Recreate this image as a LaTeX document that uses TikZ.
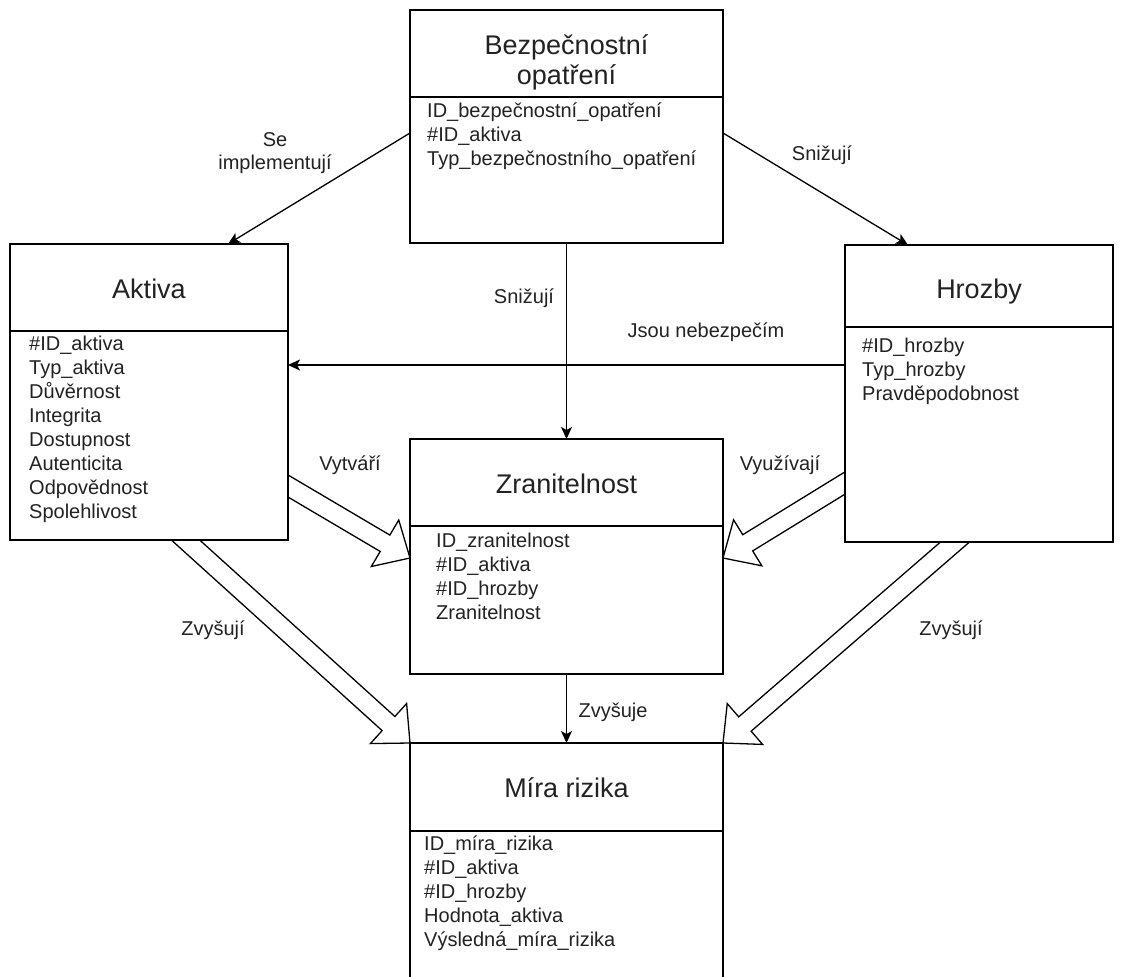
\documentclass[tikz,border=0pt]{standalone}
\usepackage{fontspec}
\setmainfont{Liberation Sans}
\usetikzlibrary{calc,arrows.meta}
\pgfdeclarelayer{background}
\pgfsetlayers{background,main}

\definecolor{ink}{RGB}{0,0,0}
\definecolor{txt}{RGB}{34,34,34}

% left-aligned column whose baseline is that of its first row
\newcommand\attrlist[1]{\begin{tabular}[t]{@{}l@{}}#1\end{tabular}}
\newcommand\titlelist[1]{\begin{tabular}[t]{@{}c@{}}#1\end{tabular}}

% hollow block arrow from #1 to the tip #2
\newcommand\hollowarrow[2]{%
  \coordinate (ha-h) at ($(#2)!29pt!(#1)$);
  \coordinate (ha-s) at ($(#1)!-20pt!(#2)$);
  \draw[fat] ($(ha-s)!9.5pt!90:(#2)$) -- ($(ha-h)!9.5pt!90:(#2)$)
    -- ($(ha-h)!27pt!90:(#2)$) -- (#2) -- ($(ha-h)!27pt!-90:(#2)$)
    -- ($(ha-h)!9.5pt!-90:(#2)$) -- ($(ha-s)!9.5pt!-90:(#2)$);
}

\begin{document}
\begin{tikzpicture}[x=1pt, y=-1pt,
  entity/.style={draw=ink, fill=white, line width=1.4pt, inner sep=0pt,
    outer sep=0pt, anchor=north west},
  divider/.style={draw=ink, line width=1.4pt},
  title/.style={font=\fontsize{27}{27}\selectfont, text=txt, inner sep=0pt, anchor=base},
  attr/.style={font=\fontsize{20}{24}\selectfont, text=txt, inner sep=0pt, anchor=base west},
  lbl/.style={font=\fontsize{20}{23}\selectfont, text=txt, inner sep=0pt, align=center},
  link/.style={draw=ink, line width=1.3pt, -{Stealth[length=12pt,width=11pt,inset=3pt]}},
  fat/.style={draw=ink, fill=white, line width=1.3pt, line join=miter}]

\useasboundingbox (0,0) rectangle (1123,976);

% entity boxes
\node[entity, minimum width=313pt, minimum height=233pt] (bez) at (410,10) {};
\node[entity, minimum width=278pt, minimum height=296pt] (akt) at (10,244) {};
\node[entity, minimum width=268pt, minimum height=297pt] (hro) at (845,245) {};
\node[entity, minimum width=313pt, minimum height=235pt] (zra) at (410,439) {};
\node[entity, minimum width=313pt, minimum height=245pt] (mir) at (410,743) {};

% header separators
\draw[divider] ($(bez.north west)+(0,87)$) -- ($(bez.north east)+(0,87)$);
\draw[divider] ($(akt.north west)+(0,87)$) -- ($(akt.north east)+(0,87)$);
\draw[divider] ($(hro.north west)+(0,82)$) -- ($(hro.north east)+(0,82)$);
\draw[divider] ($(zra.north west)+(0,87)$) -- ($(zra.north east)+(0,87)$);
\draw[divider] ($(mir.north west)+(0,88)$) -- ($(mir.north east)+(0,88)$);

% titles
\node[title] (bez-t) at (566.5,55) {\titlelist{Bezpečnostní\\[2pt]opatření}};
\node[title] (akt-t) at (149,298) {Aktiva};
\node[title] (hro-t) at (979,298) {Hrozby};
\node[title] (zra-t) at (566.5,493) {Zranitelnost};
\node[title] (mir-t) at (566.5,797) {Míra rizika};

% attributes
\node[attr] (bez-a) at (427,118) {\attrlist{ID\_bezpečnostní\_opatření\\\#ID\_aktiva\\Typ\_bezpečnostního\_opatření}};
\node[attr] (akt-a) at (29,350) {\attrlist{\#ID\_aktiva\\Typ\_aktiva\\Důvěrnost\\Integrita\\Dostupnost\\Autenticita\\Odpovědnost\\Spolehlivost}};
\node[attr] (hro-a) at (862,352) {\attrlist{\#ID\_hrozby\\Typ\_hrozby\\Pravděpodobnost}};
\node[attr] (zra-a) at (436,547) {\attrlist{ID\_zranitelnost\\\#ID\_aktiva\\\#ID\_hrozby\\Zranitelnost}};
\node[attr] (mir-a) at (424,850) {\attrlist{ID\_míra\_rizika\\\#ID\_aktiva\\\#ID\_hrozby\\Hodnota\_aktiva\\Výsledná\_míra\_rizika}};

% plain relationships
\draw[link] ($(bez.north west)+(0,123)$) -- ($(akt.north west)+(218,0)$);
\draw[link] ($(bez.north east)+(0,123)$) -- ($(hro.north west)+(63,0)$);
\draw[link] (bez.south) -- (zra.north);
\coordinate (jn) at ($(hro.north west)+(0,120)$);
\draw[link] (jn) -- (jn -| akt.east);
\draw[link] (zra.south) -- (mir.north);

% white page and block relationships, behind the boxes
\begin{pgfonlayer}{background}
  \fill[white] (0,0) rectangle (1123,976);
  \coordinate (vy-a) at ($(akt.north east)+(0,242)$);
  \coordinate (vy-b) at ($(zra.north west)+(0,119)$);
  \hollowarrow{vy-a}{vy-b}
  \coordinate (vu-a) at ($(hro.north west)+(0,238)$);
  \coordinate (vu-b) at ($(zra.north east)+(0,119)$);
  \hollowarrow{vu-a}{vu-b}
  \coordinate (zl-a) at ($(akt.south west)+(175.5,0)$);
  \hollowarrow{zl-a}{mir.north west}
  \coordinate (zr-a) at ($(hro.south west)+(110,0)$);
  \hollowarrow{zr-a}{mir.north east}
\end{pgfonlayer}

% relationship labels
\node[lbl] (l-impl) at (275,153) {Se\\implementují};
\node[lbl] (l-sniz1) at (822,155) {Snižují};
\node[lbl] (l-sniz2) at (524,298) {Snižují};
\node[lbl] (l-jsou) at (706,332) {Jsou nebezpečím};
\node[lbl] (l-vytv) at (350,465) {Vytváří};
\node[lbl] (l-vyuz) at (780,465) {Využívají};
\node[lbl] (l-zvl) at (213,630) {Zvyšují};
\node[lbl] (l-zvr) at (951,630) {Zvyšují};
\node[lbl] (l-zvy) at (613,712) {Zvyšuje};

\end{tikzpicture}
\end{document}
